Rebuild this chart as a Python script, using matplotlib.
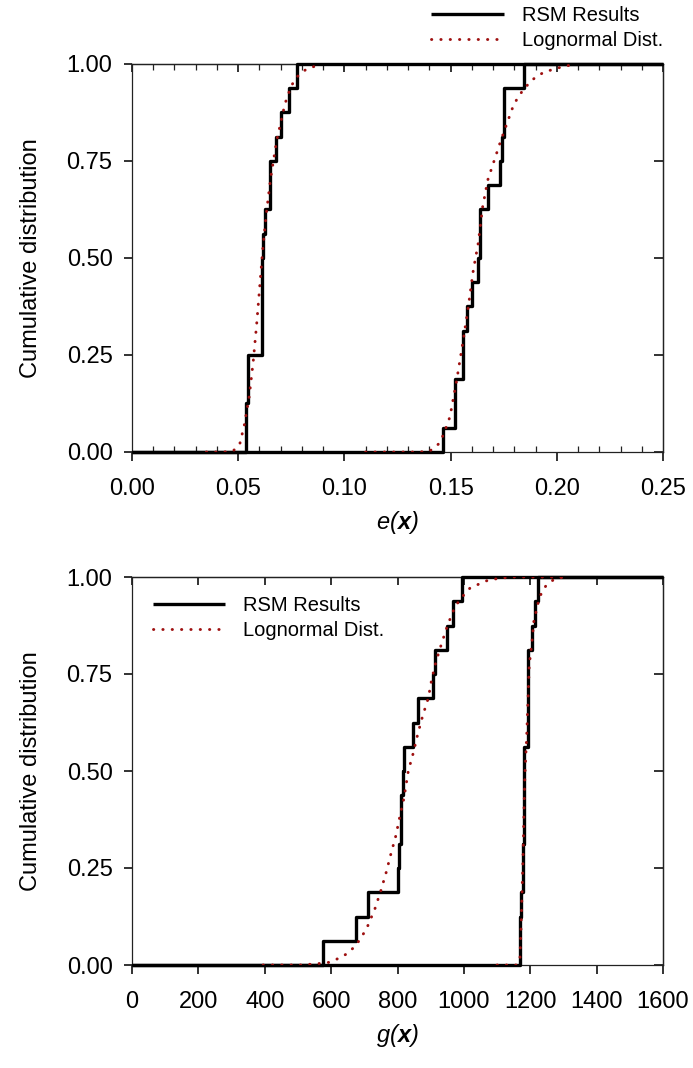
import matplotlib
matplotlib.use('Agg')
import matplotlib.pyplot as plt
from matplotlib.ticker import MultipleLocator, FormatStrFormatter

plt.rcParams['font.family'] = ['Liberation Sans', 'DejaVu Sans']
plt.rcParams['mathtext.fontset'] = 'custom'
plt.rcParams['mathtext.rm'] = 'Liberation Sans:italic'
plt.rcParams['mathtext.it'] = 'Liberation Sans:italic'
plt.rcParams['mathtext.bf'] = 'Liberation Sans:bold:italic'

# --- top panel e(x): RSM results (step jumps) ---
E_LO_JUMP_X = [0.0537, 0.0548, 0.0611, 0.0618, 0.0626, 0.0650, 0.0678, 0.0700, 0.0741, 0.0778]
E_LO_JUMP_F = [0.125, 0.25, 0.50, 0.5625, 0.625, 0.75, 0.8125, 0.875, 0.9375, 1.0]
E_HI_JUMP_X = [0.1466, 0.1521, 0.1560, 0.1576, 0.1599, 0.1630, 0.1638, 0.1677, 0.1732, 0.1740, 0.1751, 0.1847]
E_HI_JUMP_F = [0.0625, 0.1875, 0.3125, 0.375, 0.4375, 0.5, 0.625, 0.6875, 0.75, 0.8125, 0.9375, 1.0]

# --- top panel e(x): lognormal fit ---
E_LO_LN_X = [0.035, 0.0433, 0.0477, 0.0508, 0.0529, 0.0552, 0.0571, 0.0587, 0.0601, 0.0615,
             0.0632, 0.0653, 0.0681, 0.0720, 0.0749, 0.0777, 0.0819, 0.088]
E_LO_LN_F = [0.0, 0.0, 0.003, 0.022, 0.070, 0.143, 0.235, 0.330, 0.424, 0.519,
             0.613, 0.707, 0.802, 0.897, 0.943, 0.967, 0.986, 0.998]
E_HI_LN_X = [0.110, 0.1356, 0.1403, 0.1442, 0.1466, 0.1497, 0.1529, 0.1557, 0.1583, 0.1607,
             0.1630, 0.1651, 0.1675, 0.1733, 0.1764, 0.1795, 0.1819, 0.1850, 0.1889, 0.1936,
             0.1999, 0.2062]
E_HI_LN_F = [0.0, 0.0, 0.003, 0.020, 0.044, 0.091, 0.186, 0.280, 0.373, 0.469,
             0.538, 0.632, 0.701, 0.797, 0.845, 0.892, 0.916, 0.939, 0.961, 0.978,
             0.989, 0.997]

# --- bottom panel g(x): RSM results (step jumps) ---
G_LO_JUMP_X = [575, 674, 710, 800.5, 805.5, 810.5, 815.6, 819.6, 847.7, 862.7, 906, 913, 948, 968, 995]
G_LO_JUMP_F = [0.0625, 0.125, 0.1875, 0.25, 0.3125, 0.4375, 0.5, 0.5625, 0.625, 0.6875,
               0.75, 0.8125, 0.875, 0.9375, 1.0]
G_HI_JUMP_X = [1169, 1173, 1177, 1181, 1194, 1206, 1214, 1224]
G_HI_JUMP_F = [0.125, 0.1875, 0.3125, 0.5625, 0.8125, 0.875, 0.9375, 1.0]

# --- bottom panel g(x): lognormal fit ---
G_LO_LN_X = [395, 426, 511, 566, 595, 622, 650, 675, 693, 709, 732, 750, 766, 780, 795,
             807.5, 819.5, 832.5, 847.7, 860.7, 875.8, 892.8, 903, 916, 933, 951, 973, 993,
             1018, 1048.5, 1073.6, 1110, 1150, 1300]
G_LO_LN_F = [0.0, 0.0, 0.0, 0.004, 0.007, 0.017, 0.030, 0.051, 0.074, 0.098, 0.145, 0.192,
             0.239, 0.286, 0.333, 0.385, 0.430, 0.500, 0.547, 0.594, 0.642, 0.688, 0.736,
             0.782, 0.829, 0.876, 0.923, 0.947, 0.971, 0.983, 0.992, 0.997, 1.0, 1.0]
G_HI_LN_X = [1100, 1159, 1169, 1173, 1176, 1179, 1181, 1184, 1189, 1193, 1197, 1206, 1211,
             1224, 1234, 1247, 1270, 1300]
G_HI_LN_F = [0.0, 0.0, 0.02, 0.114, 0.208, 0.302, 0.396, 0.490, 0.584, 0.678, 0.772, 0.840,
             0.887, 0.934, 0.960, 0.977, 0.993, 1.0]

E_XLIM = (0.0, 0.25)
G_XLIM = (0, 1600)

STEP_KW = dict(color='black', lw=2.4, where='post', clip_on=False, solid_capstyle='butt', zorder=3)
LN_KW = dict(color='#9E1010', lw=2.1, ls=(0, (0.1, 3.1)), dash_capstyle='round', zorder=4)
SPINE_C = '#222222'


def step_xy(jx, jf, xlim):
    xs = [xlim[0]] + list(jx) + [xlim[1]]
    ys = [0.0] + list(jf) + [jf[-1]]
    return xs, ys


def style_axes(ax, xlim, xmajor, xminor, xfmt):
    ax.set_xlim(*xlim)
    ax.set_ylim(0, 1)
    ax.xaxis.set_major_locator(MultipleLocator(xmajor))
    ax.xaxis.set_major_formatter(FormatStrFormatter(xfmt))
    ax.yaxis.set_major_locator(MultipleLocator(0.25))
    ax.yaxis.set_major_formatter(FormatStrFormatter('%.2f'))
    for s in ax.spines.values():
        s.set_linewidth(0.9)
        s.set_color(SPINE_C)
    ax.tick_params(axis='both', which='major', labelsize=17, width=1.3, color=SPINE_C,
                   top=False, right=False)
    ax.tick_params(axis='x', which='major', direction='out', length=6.5, pad=12)
    ax.tick_params(axis='y', which='major', direction='out', length=6, pad=8)
    # top / right ticks point inward
    sx = ax.secondary_xaxis('top')
    sx.xaxis.set_major_locator(MultipleLocator(xmajor))
    sx.tick_params(which='both', direction='in', labeltop=False, color=SPINE_C)
    sx.tick_params(which='major', length=6, width=1.3)
    sy = ax.secondary_yaxis('right')
    sy.yaxis.set_major_locator(MultipleLocator(0.25))
    sy.tick_params(which='major', direction='in', labelright=False, length=6.5, width=1.3,
                   color=SPINE_C)
    for sec in (sx, sy):
        for s in sec.spines.values():
            s.set_linewidth(0.9)
            s.set_color(SPINE_C)
    if xminor:
        ax.xaxis.set_minor_locator(MultipleLocator(xminor))
        ax.tick_params(axis='x', which='minor', direction='in', length=4, width=0.9,
                       color=SPINE_C, top=False)
        sx.xaxis.set_minor_locator(MultipleLocator(xminor))
        sx.tick_params(which='minor', length=4, width=0.9)
    ax.set_ylabel('Cumulative distribution', fontsize=17)
    ax.yaxis.set_label_coords(-0.169, 0.5)


fig = plt.figure(figsize=(6.93, 10.68), dpi=100)
ax1 = fig.add_axes([132 / 693, 1 - 452 / 1068, 531 / 693, 388 / 1068])
ax2 = fig.add_axes([132 / 693, 1 - 965 / 1068, 531 / 693, 388 / 1068])

# top panel
x, y = step_xy(E_LO_JUMP_X, E_LO_JUMP_F, E_XLIM)
h_rsm, = ax1.step(x, y, label='RSM Results', **STEP_KW)
x, y = step_xy(E_HI_JUMP_X, E_HI_JUMP_F, E_XLIM)
ax1.step(x, y, **STEP_KW)
h_ln, = ax1.plot(E_LO_LN_X, E_LO_LN_F, label='Lognormal Dist.', **LN_KW)
ax1.plot(E_HI_LN_X, E_HI_LN_F, **LN_KW)
style_axes(ax1, E_XLIM, 0.05, 0.01, '%.2f')
ax1.set_xlabel(r'$e(\mathbf{x})$', fontsize=17, labelpad=7)
fig.legend(handles=[h_rsm, h_ln], loc='upper right', bbox_to_anchor=(663 / 693, 1 - 6 / 1068),
           frameon=False, fontsize=14.5, handlelength=3.6, handletextpad=0.9,
           labelspacing=0.3, borderpad=0, borderaxespad=0)

# bottom panel
x, y = step_xy(G_LO_JUMP_X, G_LO_JUMP_F, G_XLIM)
h_rsm2, = ax2.step(x, y, label='RSM Results', **STEP_KW)
x, y = step_xy(G_HI_JUMP_X, G_HI_JUMP_F, G_XLIM)
ax2.step(x, y, **STEP_KW)
h_ln2, = ax2.plot(G_LO_LN_X, G_LO_LN_F, label='Lognormal Dist.', **LN_KW)
ax2.plot(G_HI_LN_X, G_HI_LN_F, **LN_KW)
style_axes(ax2, G_XLIM, 200, None, '%d')
ax2.set_xlabel(r'$g(\mathbf{x})$', fontsize=17, labelpad=7)
ax2.legend(handles=[h_rsm2, h_ln2], loc='upper left', bbox_to_anchor=(0.039, 0.95),
           frameon=False, fontsize=14.5, handlelength=3.6, handletextpad=0.9,
           labelspacing=0.3, borderpad=0, borderaxespad=0)

fig.savefig('out.png', dpi=100, facecolor='white')
